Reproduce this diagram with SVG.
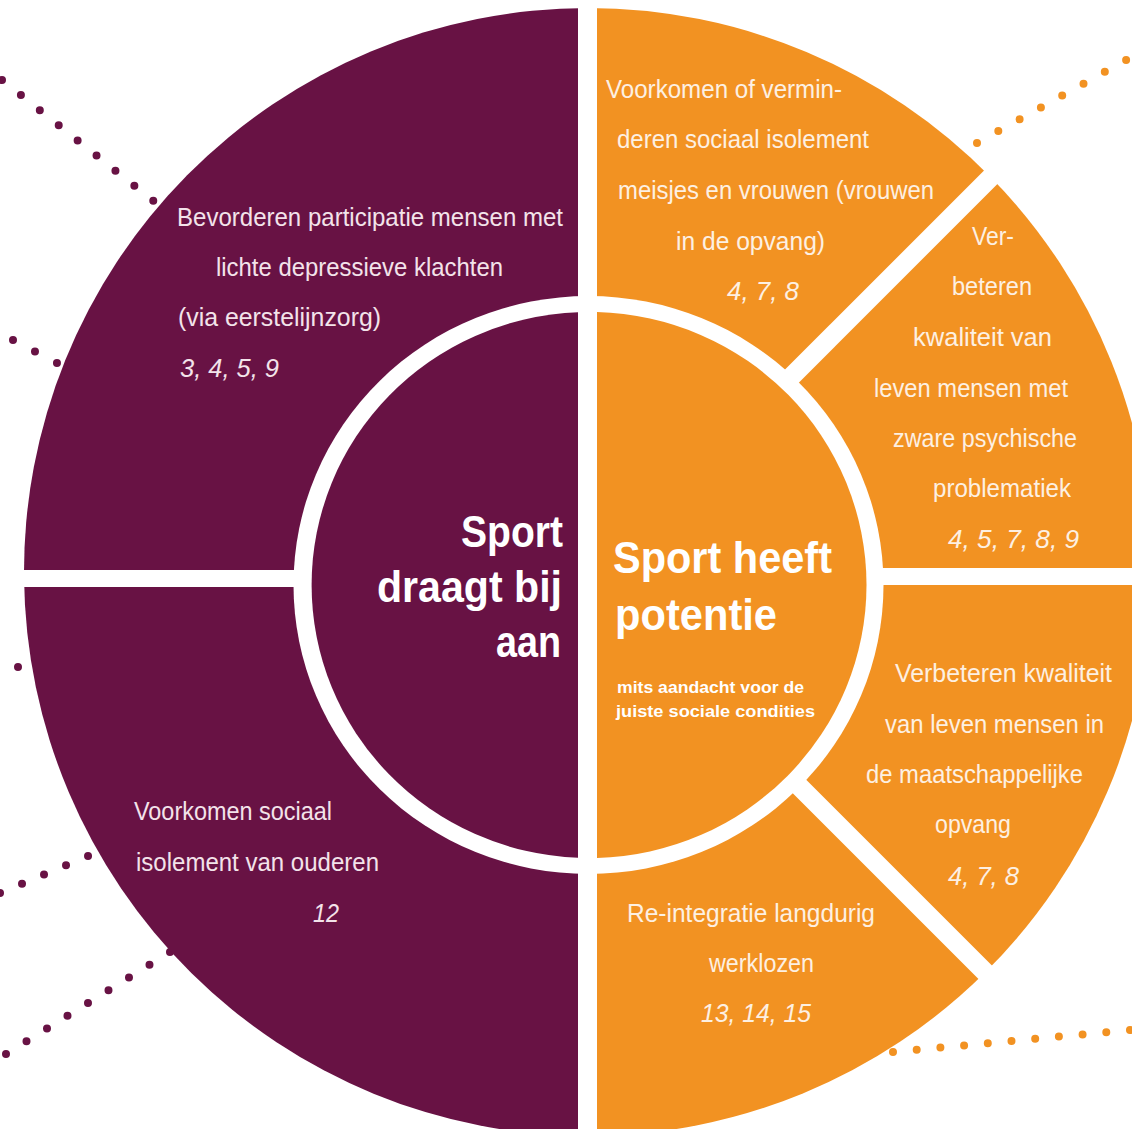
<svg xmlns="http://www.w3.org/2000/svg" width="1132" height="1129" viewBox="0 0 1132 1129">
<style>
.pu{fill:#681244}
.or{fill:#f29222}
.t{font-family:"Liberation Sans Narrow","Liberation Sans",Arial,sans-serif;font-size:26px}
.tp{fill:#f3e3ea}
.to{fill:#fdf0e2}
.n{font-style:italic}
.big{font-family:"Liberation Sans",Arial,sans-serif;font-weight:bold;font-size:44px;fill:#ffffff}
.sub{font-family:"Liberation Sans",Arial,sans-serif;font-weight:bold;font-size:17px;fill:#ffffff}
.sep{stroke:#ffffff;stroke-width:19;fill:none}
.dots{fill:none;stroke-width:8;stroke-linecap:round}
.dp{stroke:#681244}
.do{stroke:#f29222}
</style>
<g id="connectors">
<line class="dots dp" x1="2" y1="80" x2="191" y2="231" stroke-dasharray="0 24.2"/>
<line class="dots dp" x1="13" y1="340" x2="123" y2="397.5" stroke-dasharray="0 24.8"/>
<line class="dots dp" x1="18" y1="667" x2="106" y2="647" stroke-dasharray="0 22.6"/>
<line class="dots dp" x1="-22" y1="902.25" x2="132" y2="837.5" stroke-dasharray="0 23.87"/>
<line class="dots dp" x1="-14.5" y1="1066.75" x2="211" y2="926.5" stroke-dasharray="0 24.14"/>
<line class="dots do" x1="934.4" y1="166.7" x2="1147.6" y2="48" stroke-dasharray="0 24.38"/>
<line class="dots do" x1="869.3" y1="1054.2" x2="1153.7" y2="1027.8" stroke-dasharray="0 23.8"/>
</g>
<g id="seg-participatie">
<path class="pu" d="M588,578 L588,8 A564,564 0 0 0 24.03,578 Z"/>
<text class="t tp" x="177" y="226" textLength="386" lengthAdjust="spacingAndGlyphs">Bevorderen participatie mensen met</text>
<text class="t tp" x="216" y="276" textLength="287" lengthAdjust="spacingAndGlyphs">lichte depressieve klachten</text>
<text class="t tp" x="178" y="326" textLength="203" lengthAdjust="spacingAndGlyphs">(via eerstelijnzorg)</text>
<text class="t tp n" x="180" y="377" textLength="99" lengthAdjust="spacingAndGlyphs">3, 4, 5, 9</text>
</g>
<g id="seg-ouderen">
<path class="pu" d="M588,578 L24.03,578 A564,564 0 0 0 588,1136 Z"/>
<text class="t tp" x="134" y="820" textLength="198" lengthAdjust="spacingAndGlyphs">Voorkomen sociaal</text>
<text class="t tp" x="136" y="871" textLength="243" lengthAdjust="spacingAndGlyphs">isolement van ouderen</text>
<text class="t tp n" x="313" y="922" textLength="26" lengthAdjust="spacingAndGlyphs">12</text>
</g>
<g id="seg-vrouwen">
<path class="or" d="M590.5,577.5 L588,8 A564,564 0 0 1 990.8,177.2 Z"/>
<text class="t to" x="606" y="98" textLength="236" lengthAdjust="spacingAndGlyphs">Voorkomen of vermin-</text>
<text class="t to" x="617" y="148" textLength="252" lengthAdjust="spacingAndGlyphs">deren sociaal isolement</text>
<text class="t to" x="618" y="199" textLength="316" lengthAdjust="spacingAndGlyphs">meisjes en vrouwen (vrouwen</text>
<text class="t to" x="676" y="250" textLength="149" lengthAdjust="spacingAndGlyphs">in de opvang)</text>
<text class="t to n" x="727" y="300" textLength="72" lengthAdjust="spacingAndGlyphs">4, 7, 8</text>
</g>
<g id="seg-psychisch">
<path class="or" d="M590.5,577.5 L990.8,177.2 A564,564 0 0 1 1151.97,577.5 Z"/>
<text class="t to" x="972" y="245" textLength="42" lengthAdjust="spacingAndGlyphs">Ver-</text>
<text class="t to" x="952" y="295" textLength="80" lengthAdjust="spacingAndGlyphs">beteren</text>
<text class="t to" x="913" y="346" textLength="139" lengthAdjust="spacingAndGlyphs">kwaliteit van</text>
<text class="t to" x="874" y="397" textLength="194" lengthAdjust="spacingAndGlyphs">leven mensen met</text>
<text class="t to" x="893" y="447" textLength="184" lengthAdjust="spacingAndGlyphs">zware psychische</text>
<text class="t to" x="933" y="497" textLength="138" lengthAdjust="spacingAndGlyphs">problematiek</text>
<text class="t to n" x="948" y="548" textLength="131" lengthAdjust="spacingAndGlyphs">4, 5, 7, 8, 9</text>
</g>
<g id="seg-opvang">
<path class="or" d="M590.5,577.5 L1151.97,577.5 A564,564 0 0 1 985.3,972.3 Z"/>
<text class="t to" x="895" y="682" textLength="217" lengthAdjust="spacingAndGlyphs">Verbeteren kwaliteit</text>
<text class="t to" x="885" y="733" textLength="219" lengthAdjust="spacingAndGlyphs">van leven mensen in</text>
<text class="t to" x="866" y="783" textLength="217" lengthAdjust="spacingAndGlyphs">de maatschappelijke</text>
<text class="t to" x="935" y="833" textLength="76" lengthAdjust="spacingAndGlyphs">opvang</text>
<text class="t to n" x="948" y="885" textLength="71" lengthAdjust="spacingAndGlyphs">4, 7, 8</text>
</g>
<g id="seg-werklozen">
<path class="or" d="M590.5,577.5 L985.3,972.3 A564,564 0 0 1 588,1136 Z"/>
<text class="t to" x="627" y="922" textLength="248" lengthAdjust="spacingAndGlyphs">Re-integratie langdurig</text>
<text class="t to" x="709" y="972" textLength="105" lengthAdjust="spacingAndGlyphs">werklozen</text>
<text class="t to n" x="701" y="1022" textLength="110" lengthAdjust="spacingAndGlyphs">13, 14, 15</text>
</g>
<g id="separators">
<rect x="0" y="570" width="590" height="17" fill="#ffffff"/>
<rect x="590" y="568" width="542" height="17" fill="#ffffff"/>
<line class="sep" x1="700" y1="468" x2="1000" y2="168"/>
<line class="sep" x1="700" y1="687" x2="995" y2="982"/>
<ellipse cx="588.5" cy="585" rx="295" ry="289" fill="#ffffff"/>
<rect x="578" y="0" width="19" height="1129" fill="#ffffff"/>
</g>
<g id="center-draagt">
<path class="pu" d="M578,312.2 A277,273 0 0 0 578,857.8 Z"/>
<text class="big" x="563" y="547" text-anchor="end" textLength="102" lengthAdjust="spacingAndGlyphs">Sport</text>
<text class="big" x="562" y="602" text-anchor="end" textLength="185" lengthAdjust="spacingAndGlyphs">draagt bij</text>
<text class="big" x="561" y="657" text-anchor="end" textLength="65" lengthAdjust="spacingAndGlyphs">aan</text>
</g>
<g id="center-potentie">
<path class="or" d="M597,312.1 A277,273 0 0 1 597,857.9 Z"/>
<text class="big" x="613" y="573" textLength="219" lengthAdjust="spacingAndGlyphs">Sport heeft</text>
<text class="big" x="615" y="630" textLength="162" lengthAdjust="spacingAndGlyphs">potentie</text>
<text class="sub" x="617" y="693" textLength="187" lengthAdjust="spacingAndGlyphs">mits aandacht voor de</text>
<text class="sub" x="616" y="717" textLength="199" lengthAdjust="spacingAndGlyphs">juiste sociale condities</text>
</g>
</svg>
